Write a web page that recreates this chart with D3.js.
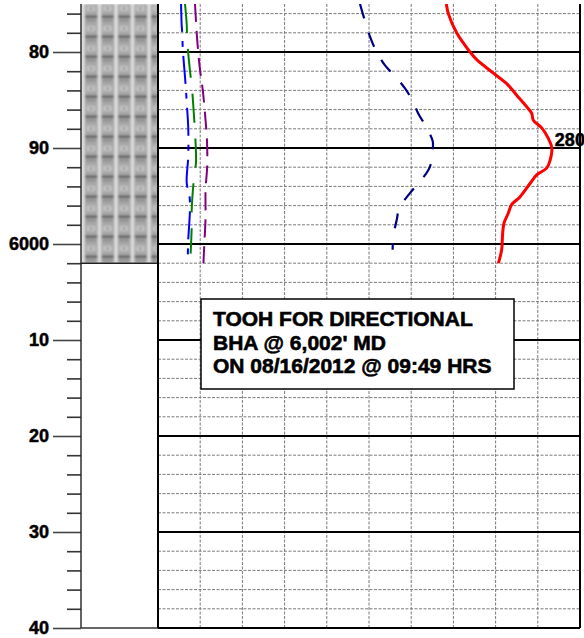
<!DOCTYPE html>
<html>
<head>
<meta charset="utf-8">
<script src="https://cdn.jsdelivr.net/npm/d3@7"></script>
<style>
  html, body { margin: 0; padding: 0; background: #fff; }
  svg { display: block; font-family: "Liberation Sans", Arial, Helvetica, sans-serif; }
</style>
</head>
<body>
<svg id="log" width="584" height="638"></svg>
<script>
// Depth interval shown (ft MD) and gas track range
const depthRange = [5975, 6040];
const gasRange = [0, 300];
const majorDepths = [5980, 5990, 6000, 6010, 6020, 6030, 6040];
const minorDepths = d3.range(5976, 6040, 2).filter(d => d % 10 !== 0);
const gridValues = d3.range(30, 300, 30);
const lithoBase = 6002;

// Total gas (units)
const totalGasDepth = [5975, 5976, 5978, 5979, 5980, 5980.8, 5982.2, 5983.3, 5984.5, 5985.9, 5986.4, 5987.1, 5987.9, 5989, 5990, 5991.3, 5992.1, 5992.8, 5993.7, 5995.1, 5995.9, 5996.8, 5997.8, 5998.9, 6000.6, 6002];
const totalGas      = [205, 206.4, 212.3, 216.8, 221.8, 226.6, 238.4, 247.9, 255, 263.2, 265.7, 266.8, 272.8, 277.5, 280, 278.7, 276.3, 269.2, 264.5, 257.3, 251.4, 249, 246, 245, 244.3, 242];

// Rate of penetration
const ropDepth = [5975, 5978.4, 5980, 5981.4, 5982.7, 5983.8, 5985.2, 5986.4, 5987.9, 5989.3, 5990.2, 5991.3, 5992.3, 5993.7, 5994.7, 5996.3, 5997.5, 5999.2, 6000.6];
const rop      = [143.6, 150.7, 155.5, 161.4, 169.7, 175.6, 181.5, 185, 191, 195.3, 195.3, 194.6, 192.2, 185, 179.1, 171.5, 169.7, 167.3, 166.8];

// C1 (blue), C2 (green), C3 (purple)
const c1Depth = [5975, 5977.1, 5978.2, 5979.6, 5982.6, 5984, 5985.2, 5987.9, 5990.9, 5993.6, 5995, 5996.5, 5999.6, 6002];
const c1      = [16.4, 16.8, 17.3, 17.6, 19.2, 19.9, 20.4, 21.5, 21.5, 20.4, 22.4, 22.7, 21.5, 21.1];
const c2Depth = [5975, 5977.1, 5978.9, 5981.9, 5983.5, 5986.7, 5988.3, 5991.5, 5993.1, 5996.3, 5998, 6001];
const c2      = [19.2, 20.4, 20.8, 22.7, 24, 25.6, 26.3, 27, 25.6, 24, 24, 23.2];
const c3Depth = [5975, 5976, 5978.4, 5981.4, 5984.2, 5987.1, 5989.2, 5991.8, 5994.4, 5997.3, 6000.1, 6002];
const c3      = [26.3, 26.7, 27.7, 29.5, 32, 33.8, 34.8, 35, 33.8, 33.8, 32.9, 32.3];

const noteLines = ["TOOH FOR DIRECTIONAL", "BHA @ 6,002' MD", "ON 08/16/2012 @ 09:49 HRS"];

// Layout
const plotTop = 4, plotBottom = 628;
const axisX = 81, lithoRight = 158, trackRight = 580;

const svg = d3.select("#log");
const y = d3.scaleLinear().domain(depthRange).range([plotTop, plotBottom]);
const x = d3.scaleLinear().domain(gasRange).range([lithoRight, trackRight]);

const defs = svg.append("defs");
defs.append("clipPath").attr("id", "trackClip")
  .append("rect").attr("x", lithoRight).attr("y", plotTop)
  .attr("width", trackRight - lithoRight).attr("height", plotBottom - plotTop);

// Sandstone-style lithology fill
const pat = defs.append("pattern").attr("id", "litho")
  .attr("patternUnits", "userSpaceOnUse").attr("width", 16.5).attr("height", 20)
  .attr("x", axisX).attr("y", plotTop);
pat.append("rect").attr("width", 16.5).attr("height", 20).attr("fill", "#a8a8a8");
pat.append("rect").attr("x", 0.5).attr("width", 3).attr("height", 20).attr("fill", "#e4e4e4");
pat.append("rect").attr("x", 6).attr("y", 2).attr("width", 8).attr("height", 5).attr("fill", "#c8c8c8");
pat.append("circle").attr("cx", 10).attr("cy", 4.5).attr("r", 1.2).attr("fill", "#7a7a7a");
pat.append("rect").attr("x", 4).attr("y", 11.5).attr("width", 12.5).attr("height", 2.5).attr("fill", "#5a5a5a");
pat.append("rect").attr("x", 5).attr("y", 15.5).attr("width", 10).attr("height", 2).attr("fill", "#8a8a8a");
defs.append("filter").attr("id", "soft").attr("x", 0).attr("y", 0).attr("width", 1).attr("height", 1)
  .append("feGaussianBlur").attr("stdDeviation", 0.9);

svg.append("rect")
  .attr("x", axisX).attr("y", y(depthRange[0]))
  .attr("width", lithoRight - axisX).attr("height", y(lithoBase) - y(depthRange[0]))
  .attr("fill", "url(#litho)").attr("filter", "url(#soft)");

// Grid
const grid = svg.append("g");
grid.selectAll("line.v").data(gridValues).join("line")
  .attr("x1", d => x(d)).attr("x2", d => x(d))
  .attr("y1", plotTop).attr("y2", plotBottom)
  .attr("stroke", "#7a7a7a").attr("stroke-width", 1).attr("stroke-dasharray", "3,1.5");
grid.selectAll("line.h").data(minorDepths).join("line")
  .attr("x1", lithoRight).attr("x2", trackRight)
  .attr("y1", d => y(d)).attr("y2", d => y(d))
  .attr("stroke", "#7a7a7a").attr("stroke-width", 1).attr("stroke-dasharray", "3,1.5");
grid.selectAll("line.m").data(majorDepths).join("line")
  .attr("x1", lithoRight).attr("x2", trackRight)
  .attr("y1", d => y(d)).attr("y2", d => y(d))
  .attr("stroke", "#000").attr("stroke-width", 2);

// Depth axis
const fmt = d => (d % 100 === 0 ? String(d) : String(d % 100));
svg.append("g").attr("transform", `translate(${axisX},0)`)
  .call(d3.axisLeft(y).tickValues(minorDepths).tickSize(14).tickFormat(""))
  .call(g => g.select(".domain").remove())
  .call(g => g.selectAll("line").attr("stroke", "#333").attr("stroke-width", 1.6));
svg.append("g").attr("transform", `translate(${axisX},0)`)
  .call(d3.axisLeft(y).tickValues(majorDepths).tickSize(28).tickPadding(4).tickFormat(fmt))
  .call(g => g.select(".domain").remove())
  .call(g => g.selectAll("line").attr("stroke", "#444").attr("stroke-width", 1.6))
  .call(g => g.selectAll("text").attr("fill", "#000").attr("font-size", 18)
    .attr("font-weight", "bold").attr("font-family", "Liberation Sans, Arial, sans-serif")
    .attr("stroke", "#000").attr("stroke-width", 0.5));

// Column borders
svg.append("line").attr("x1", axisX).attr("x2", axisX).attr("y1", plotTop).attr("y2", plotBottom)
  .attr("stroke", "#222").attr("stroke-width", 1.4);
svg.append("line").attr("x1", axisX).attr("x2", lithoRight).attr("y1", y(lithoBase)).attr("y2", y(lithoBase))
  .attr("stroke", "#222").attr("stroke-width", 1.4);
svg.append("line").attr("x1", axisX).attr("x2", lithoRight).attr("y1", plotBottom).attr("y2", plotBottom)
  .attr("stroke", "#333").attr("stroke-width", 1.6);
svg.append("line").attr("x1", lithoRight).attr("x2", lithoRight).attr("y1", plotTop).attr("y2", plotBottom)
  .attr("stroke", "#000").attr("stroke-width", 2);
svg.append("line").attr("x1", trackRight).attr("x2", trackRight).attr("y1", plotTop).attr("y2", plotBottom)
  .attr("stroke", "#000").attr("stroke-width", 2);

// Curves
const curves = svg.append("g").attr("clip-path", "url(#trackClip)");
const line = d3.line().x(d => x(d[1])).y(d => y(d[0])).curve(d3.curveCatmullRom.alpha(0.5));
const series = [
  { depth: c1Depth, val: c1, color: "#0000ff", width: 2, dash: "28,9,6,9" },
  { depth: c2Depth, val: c2, color: "#008000", width: 2, dash: "29,16" },
  { depth: c3Depth, val: c3, color: "#800080", width: 2, dash: "18,9" },
  { depth: ropDepth, val: rop, color: "#000080", width: 2.2, dash: "15,15" },
  { depth: totalGasDepth, val: totalGas, color: "#ff0000", width: 3, dash: null }
];
series.forEach(s => {
  curves.append("path")
    .datum(d3.zip(s.depth, s.val))
    .attr("d", line)
    .attr("fill", "none")
    .attr("stroke", s.color)
    .attr("stroke-width", s.width)
    .attr("stroke-dasharray", s.dash)
    .attr("stroke-linejoin", "round");
});

// Peak value label for total gas
const peakIdx = d3.maxIndex(totalGas);
svg.append("text")
  .attr("x", x(totalGas[peakIdx]) + 3).attr("y", y(totalGasDepth[peakIdx]) - 2)
  .attr("font-size", 18).attr("font-weight", "bold").attr("fill", "#000")
  .attr("stroke", "#000").attr("stroke-width", 0.5)
  .text(totalGas[peakIdx]);

// Trip note
const note = svg.append("g");
note.append("rect").attr("x", 201).attr("y", 299).attr("width", 313).attr("height", 90)
  .attr("fill", "#fff").attr("stroke", "#000").attr("stroke-width", 1.5);
note.selectAll("text").data(noteLines).join("text")
  .attr("x", 213).attr("y", (d, i) => 326 + i * 23.5)
  .attr("font-size", 21).attr("font-weight", "bold").attr("fill", "#000")
  .attr("stroke", "#000").attr("stroke-width", 0.6)
  .text(d => d);
</script>
</body>
</html>
